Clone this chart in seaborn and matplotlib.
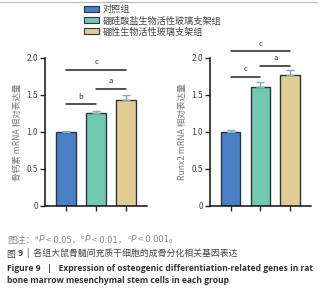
import pandas as pd
import seaborn as sns
import matplotlib.pyplot as plt
from matplotlib.patches import Patch
from matplotlib.transforms import offset_copy

groups = ["对照组", "硼硅酸盐生物活性玻璃支架组", "硼性生物活性玻璃支架组"]
colors = ["#4a80c6", "#72c9ad", "#e0cd92"]

# 骨钙素 (osteocalcin)
ocn_mean = [1.00, 1.25, 1.43]
ocn_err = [0.01, 0.03, 0.075]
# Runx2
runx_mean = [1.00, 1.61, 1.77]
runx_err = [0.02, 0.06, 0.07]

ylabels = ["骨钙素 mRNA 相对表达量", "Runx2 mRNA 相对表达量"]

# significance brackets: (left bar, right bar, height, letter)
ocn_sig = [(0, 2, 1.84, "c"), (1, 2, 1.58, "a"), (0, 1, 1.37, "b")]
runx_sig = [(0, 2, 2.09, "c"), (1, 2, 1.89, "a"), (0, 1, 1.74, "c")]

sns.set_style("ticks")
plt.rcParams["font.family"] = ["Noto Sans CJK SC", "DejaVu Sans"]

fig = plt.figure(figsize=(3.29, 3.0), dpi=100)
ax1 = fig.add_axes([0.137, 0.314, 0.31, 0.493])
ax2 = fig.add_axes([0.638, 0.314, 0.307, 0.493])

for ax, mean, err, ylab, sig in [(ax1, ocn_mean, ocn_err, ylabels[0], ocn_sig),
                                 (ax2, runx_mean, runx_err, ylabels[1], runx_sig)]:
    df = pd.DataFrame({"group": groups, "value": mean})
    sns.barplot(data=df, x="group", y="value", hue="group", palette=colors,
                order=groups, hue_order=groups, width=0.65, errorbar=None,
                saturation=1, edgecolor="#2b3442", linewidth=1.0, legend=False, ax=ax)
    ax.errorbar(range(3), mean, yerr=[[0, 0, 0], err], fmt="none",
                ecolor="#7fb0b4", elinewidth=1.0, capsize=3, capthick=1.0, zorder=1)
    for i, j, h, lab in sig:
        ax.plot([i, j], [h, h], color="#222222", lw=1.1, clip_on=False)
        ax.text((i + j) / 2, h + 0.05, lab, ha="center", va="bottom",
                fontsize=5.5, color="#333333", clip_on=False)
    ax.set_xlim(-0.7, 2.7)
    ax.set_ylim(0, 2.0)
    ax.set_yticks([0, 0.5, 1.0, 1.5, 2.0])
    ax.set_yticklabels(["0", "0.5", "1.0", "1.5", "2.0"])
    ax.set_xticks([0, 1, 2])
    ax.set_xticklabels([])
    ax.set_xlabel("")
    ax.set_ylabel(ylab, fontsize=6.2, color="#777777", labelpad=3)
    ax.tick_params(axis="y", labelsize=6, labelcolor="#444444", length=3.5,
                   width=1.0, pad=1.5)
    ax.tick_params(axis="x", length=3.5, width=1.0)
    for s in ["left", "bottom"]:
        ax.spines[s].set_linewidth(1.1)
        ax.spines[s].set_color("#111111")
    sns.despine(ax=ax)

handles = [Patch(facecolor=c, edgecolor="#2b3442", linewidth=0.8) for c in colors]
fig.legend(handles, groups, loc="upper left", bbox_to_anchor=(0.235, 1.005),
           frameon=False, fontsize=6.6, handlelength=1.7, handleheight=0.65,
           handletextpad=0.35, labelspacing=0.22, borderaxespad=0.3,
           labelcolor="#444444")

# top rule
fig.add_artist(plt.Line2D([0.0, 0.965], [0.993, 0.993], color="#bbbbbb", lw=0.8))

# captions
fig.canvas.draw()
renderer = fig.canvas.get_renderer()


def line_of(pieces, x, y):
    for s, kw, rise in pieces:
        tr = offset_copy(fig.transFigure, fig=fig, x=0, y=rise, units="points")
        t = fig.text(x, y, s, va="baseline", ha="left", transform=tr, **kw)
        bb = t.get_window_extent(renderer)
        x += bb.width / fig.bbox.width


g = dict(fontsize=6.7, color="#888888")
gi = dict(fontsize=6.7, color="#888888", family="DejaVu Sans", style="italic")
gs = dict(fontsize=4.2, color="#888888", family="DejaVu Sans")
line_of([("图注：", g, 0), ("a", gs, 2.7), ("P", gi, 0), (" < 0.05，", g, 0),
         ("b", gs, 2.7), ("P", gi, 0), (" < 0.01，", g, 0),
         ("c", gs, 2.7), ("P", gi, 0), (" < 0.001。", g, 0)], 0.022, 0.192)

d = dict(fontsize=6.4, color="#444444")
line_of([("图 ", d, 0), ("9", dict(fontsize=6.4, color="#444444", weight="bold"), 0),
         ("  |  各组大鼠骨髓间充质干细胞的成骨分化相关基因表达", d, 0)], 0.022, 0.145)

e = dict(fontsize=6.1, color="#333333", family=["Open Sans", "DejaVu Sans"], weight="bold")
fig.text(0.022, 0.098, "Figure 9   |   Expression of osteogenic differentiation-related genes in rat",
         va="baseline", **e)
fig.text(0.022, 0.058, "bone marrow mesenchymal stem cells in each group", va="baseline", **e)

fig.savefig("out.png", dpi=100)
